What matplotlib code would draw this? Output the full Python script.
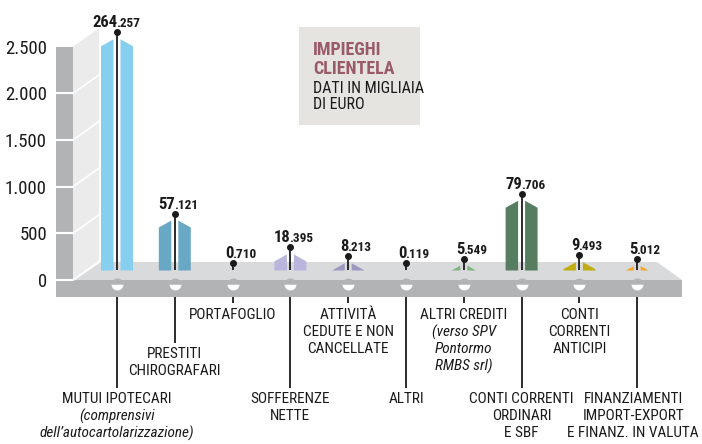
import matplotlib
matplotlib.use('Agg')
import matplotlib.pyplot as plt
from matplotlib.patches import Polygon, Rectangle

plt.rcParams['font.family'] = ['Roboto Condensed', 'Encode Sans Condensed', 'DejaVu Sans']

# dati (migliaia di euro)
categories = ['MUTUI IPOTECARI', 'PRESTITI\nCHIROGRAFARI', 'PORTAFOGLIO', 'SOFFERENZE\nNETTE',
              'ATTIVITÀ\nCEDUTE E NON\nCANCELLATE', 'ALTRI', 'ALTRI CREDITI',
              'CONTI CORRENTI\nORDINARI\nE SBF', 'CONTI\nCORRENTI\nANTICIPI',
              'FINANZIAMENTI\nIMPORT-EXPORT\nE FINANZ. IN VALUTA']
notes = ['(comprensivi\ndell’autocartolarizzazione)', '', '', '', '', '',
         '(verso SPV\nPontormo\nRMBS srl)', '', '', '']
values = [264.257, 57.121, 0.710, 18.395, 8.213, 0.119, 5.549, 79.706, 9.493, 5.012]
colors = ['#86cfee', '#68a8c5', '#9db9cc', '#bab5dd', '#9c99c0', '#b0b0b0',
          '#7db480', '#567d5f', '#c2ad10', '#f5a623']
label_level = [2, 1, 0, 2, 0, 2, 0, 2, 0, 2]
yticks = [0, 500, 1000, 1500, 2000, 2500]
ytick_labels = ['0', '500', '1.000', '1.500', '2.000', '2.500']

# conversione pixel -> dati, solo per le decorazioni
XS, X0 = 57.8, 117
YS, Y0 = 233.33 / 2500, 280


def px(x):
    return (x - X0) / XS


def py(y):
    return (Y0 - y) / YS


SCALE = 9.375          # unità asse per unità di valore
BASE = py(270.5)
DROP = 7 / YS
DOT = 7 / YS
W_IN, W_OUT = 3.5 / XS, 16 / XS

STRIP = '#b2b3b5'
FLOOR = '#d9dadc'
WALL = '#ebebeb'
TXT = '#1a1a1a'

fig = plt.figure(figsize=(7.02, 4.44), dpi=100)
ax = fig.add_axes([0, 0, 1, 1])
ax.set_xlim(px(0), px(702))
ax.set_ylim(py(444), py(0))
for s in ax.spines.values():
    s.set_visible(False)
ax.spines['left'].set_position(('data', px(56)))
ax.set_xticks([])
ax.set_yticks(yticks)
ax.set_yticklabels(ytick_labels, fontsize=13.5, color=TXT)
ax.tick_params(axis='y', length=0, pad=6.5)

# muro e pavimento
dx, dy = px(99) - px(73), 18.5 / YS
ax.add_patch(Polygon([(px(73), 0), (px(73), 2500), (px(99), 2500 + dy), (px(99), py(262))],
                     closed=True, color=WALL, lw=0))
ax.add_patch(Rectangle((px(56), 0), px(73) - px(56), 2500, color=STRIP, lw=0))
for t in yticks[1:-1]:
    ax.plot([px(56), px(73)], [t, t], color='white', lw=1.5)
    ax.plot([px(73), px(99)], [t, t + dy], color='white', lw=1.2)
ax.add_patch(Polygon([(px(99), py(262)), (px(657), py(262)), (px(682), 0), (px(73), 0)],
                     closed=True, color=FLOOR, lw=0))
ax.plot([px(56), px(73), px(99)], [0, 0, py(262)], color='white', lw=1.5)
ax.add_patch(Rectangle((px(56), py(297)), px(682) - px(56), -py(297) - 1.5, color=STRIP, lw=0))

# barre
for i, v in enumerate(values):
    h = v * SCALE
    for side in (-1, 1):
        xi = i + side * W_IN
        xo = i + side * W_OUT
        if h - DROP >= 0:
            pts = [(xi, BASE), (xi, BASE + h), (xo, BASE + h - DROP), (xo, BASE)]
        else:
            xe = xi + (xo - xi) * h / DROP
            pts = [(xi, BASE), (xi, BASE + h), (xe, BASE)]
        ax.add_patch(Polygon(pts, closed=True, color=colors[i], lw=0))
    top = BASE + h + DOT
    ax.plot([i, i], [BASE, top], color=TXT, lw=1.3, solid_capstyle='butt')
    ax.plot(i, top, 'o', ms=4, color=TXT)
    whole, frac = f'{v:.3f}'.split('.')
    ax.text(i + 0.01, top + 5 / YS, whole, ha='right', va='baseline',
            fontsize=12, fontweight='bold', color=TXT)
    ax.text(i - 0.015, top + 5 / YS, '.' + frac, ha='left', va='baseline',
            fontsize=9.5, fontweight='bold', color=TXT)

# semicerchi sulla fascia frontale
ax.plot(range(len(values)), [py(284)] * len(values), 'o', ms=8.6, fillstyle='bottom',
        markerfacecolor='white', markerfacecoloralt=STRIP, mew=0, ls='none')

# etichette
line_end = {0: 303, 1: 343, 2: 388}
first_y = {0: 315, 1: 354, 2: 399}
label_shift = {9: -4 / XS}
for i, (cat, note) in enumerate(zip(categories, notes)):
    lev = label_level[i]
    ax.plot([i, i], [py(297), py(line_end[lev])], color=TXT, lw=1.3, solid_capstyle='butt')
    xl = i + label_shift.get(i, 0)
    y = first_y[lev]
    for line in cat.split('\n'):
        ax.text(xl, py(y), line, ha='center', va='center', fontsize=11, color=TXT)
        y += 17
    if note:
        for line in note.split('\n'):
            ax.text(xl, py(y), line, ha='center', va='center', fontsize=11,
                    style='italic', color=TXT)
            y += 17

# riquadro titolo
ax.add_patch(Rectangle((px(299), py(125)), px(420) - px(299), py(27) - py(125),
                       color='#e6e4e1', lw=0))
ax.text(px(313), py(50), 'IMPIEGHI', ha='left', va='center', fontsize=13,
        fontweight='bold', color='#9a5b69')
ax.text(px(313), py(69), 'CLIENTELA', ha='left', va='center', fontsize=13,
        fontweight='bold', color='#9a5b69')
ax.text(px(313), py(89), 'DATI IN MIGLIAIA', ha='left', va='center', fontsize=11.5, color=TXT)
ax.text(px(313), py(105), 'DI EURO', ha='left', va='center', fontsize=11.5, color=TXT)

fig.savefig('out.png', dpi=100)
